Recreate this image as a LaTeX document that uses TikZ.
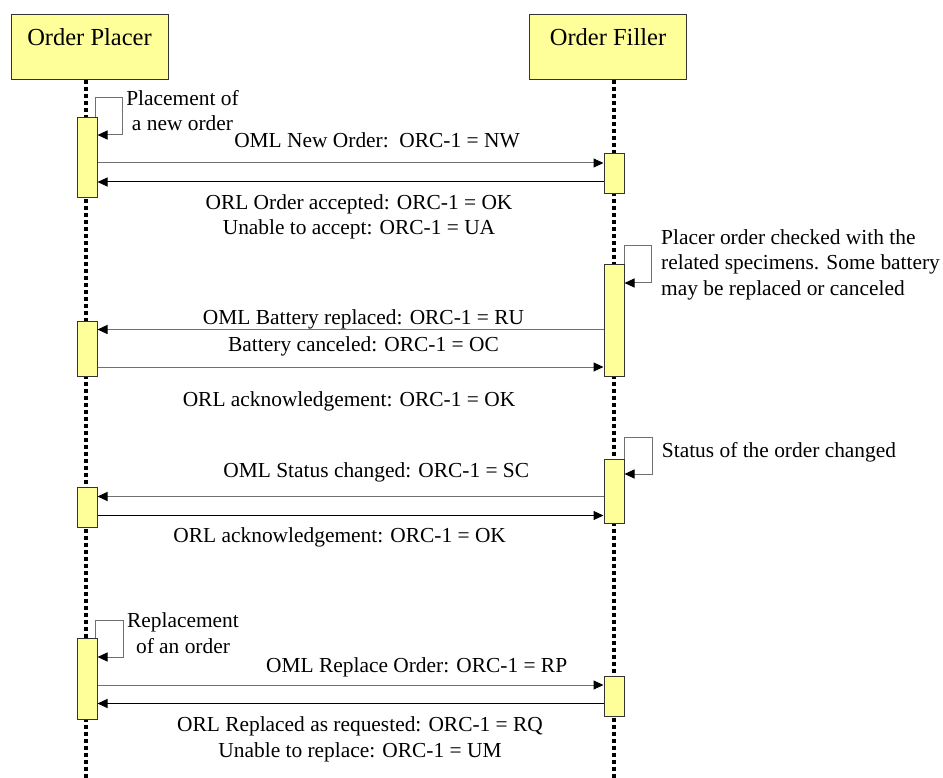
\documentclass[tikz,border=0pt]{standalone}
\usepackage{fontspec}
\setmainfont{Liberation Serif}
\usetikzlibrary{arrows.meta}
\definecolor{actfill}{HTML}{FFFF99}
\definecolor{linegray}{HTML}{707070}
\definecolor{boxline}{HTML}{333333}
\begin{document}
\begin{tikzpicture}[x=1pt,y=-1pt,
  every node/.style={inner sep=0pt},
  lab/.style={font=\fontsize{21.4}{25.2}\selectfont, anchor=base, align=center},
  labl/.style={font=\fontsize{21.4}{25.2}\selectfont, anchor=base west, align=left},
  head/.style={draw=boxline, fill=actfill, line width=1pt, font=\fontsize{24.5}{29}\selectfont,
    anchor=base, text height=31pt, text depth=34pt, minimum width=157pt},
  act/.style={draw=boxline, fill=actfill, line width=1pt, minimum width=20pt, anchor=north west},
  life/.style={line width=4pt, dash pattern=on 4pt off 3pt},
  tip/.style={-{Triangle[length=10pt,width=9pt,color=black]}},
  msgg/.style={line width=1pt, draw=linegray, tip},
  msgb/.style={line width=1pt, draw=black, tip},
  selfloop/.style={line width=1pt, draw=linegray, tip}
]
\useasboundingbox (0,0) rectangle (943,778);

% headers
\node[head] (placer) at (89.5,46) {Order Placer};
\node[head] (filler) at (608,46) {Order Filler};

% lifelines
\coordinate (pend) at (86,778);
\coordinate (fend) at (614,778);
\draw[life] (pend |- placer.south) -- (pend);
\draw[life] (fend |- filler.south) -- (fend);

% activation boxes
\node[act, minimum height=80pt] (pa1) at (76.5,117) {};
\node[act, minimum height=55pt] (pa2) at (76.5,321) {};
\node[act, minimum height=40pt] (pa3) at (76.5,487) {};
\node[act, minimum height=81pt] (pa4) at (76.5,638) {};
\node[act, minimum height=40pt] (fa1) at (603.5,153) {};
\node[act, minimum height=112pt] (fa2) at (603.5,264) {};
\node[act, minimum height=64pt] (fa3) at (603.5,459) {};
\node[act, minimum height=40pt] (fa4) at (603.5,676) {};

% self messages
\draw[selfloop] ([xshift=-2pt]pa1.north east) |- (122,98) |- (pa1.east |- 0,135);
\draw[selfloop] ([xshift=-0.5pt]fa2.north east) |- (651,246) |- (fa2.east |- 0,283);
\draw[selfloop] ([xshift=-0.5pt]fa3.north east) |- (652,437) |- (fa3.east |- 0,474);
\draw[selfloop] ([xshift=-2pt]pa4.north east) |- (123,620) |- (pa4.east |- 0,657);

% messages
\draw[msgg] (pa1.east |- 0,163) -- (fa1.west |- 0,163);
\draw[msgb] (fa1.west |- 0,182) -- (pa1.east |- 0,182);
\draw[msgg] (fa2.west |- 0,329.5) -- (pa2.east |- 0,329.5);
\draw[msgg] (pa2.east |- 0,367) -- (fa2.west |- 0,367);
\draw[msgg] (fa3.west |- 0,496.5) -- (pa3.east |- 0,496.5);
\draw[msgb] (pa3.east |- 0,515.5) -- (fa3.west |- 0,515.5);
\draw[msgg] (pa4.east |- 0,685) -- (fa4.west |- 0,685);
\draw[msgb] (fa4.west |- 0,703.5) -- (pa4.east |- 0,703.5);

% labels (multi-line nodes are anchored at the baseline of their last line)
\node[lab] (t1) at (182.5,131) {Placement of\\a new order};
\node[lab] (t2) at (377,148) {OML New Order:\ \ ORC-1 = NW};
\node[lab] (t3) at (359,235) {ORL Order accepted: ORC-1 = OK\\Unable to accept: ORC-1 = UA};
\node[labl] (t4) at (661,295) {Placer order checked with the\\related specimens. Some battery\\may be replaced or canceled};
\node[lab] (t5) at (363.5,352) {OML Battery replaced: ORC-1 = RU\\[2.4pt]Battery canceled: ORC-1 = OC};
\node[lab] (t6) at (349,406) {ORL acknowledgement: ORC-1 = OK};
\node[labl] (t7) at (661.7,457) {Status of the order changed};
\node[lab] (t8) at (376.3,477) {OML Status changed: ORC-1 = SC};
\node[lab] (t9) at (339.7,542) {ORL acknowledgement: ORC-1 = OK};
\node[lab] (t10) at (183,653) {Replacement\\of an order};
\node[lab] (t11) at (416.7,672) {OML Replace Order: ORC-1 = RP};
\node[lab] (t12) at (360,757) {ORL Replaced as requested: ORC-1 = RQ\\Unable to replace: ORC-1 = UM};
\end{tikzpicture}
\end{document}
